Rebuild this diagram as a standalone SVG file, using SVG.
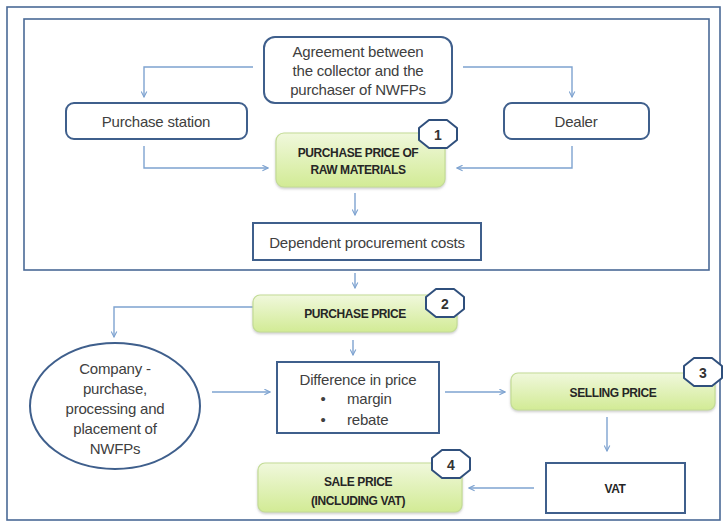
<svg xmlns="http://www.w3.org/2000/svg" width="725" height="524" viewBox="0 0 725 524">
  <defs>
    <style>
      .frame{fill:none;stroke:#4a6a96;stroke-width:1.6}
      .box{fill:#ffffff;stroke:#3f5f8c;stroke-width:2}
      .green{fill:url(#gr);stroke:#c3dc95;stroke-width:1.2;filter:url(#sh)}
      .badge{fill:#ffffff;stroke:#2f4f7c;stroke-width:2;stroke-linejoin:round}
      .conn{fill:none;stroke:#7ea3d0;stroke-width:1.4;marker-end:url(#ah)}
      text{font-family:"Liberation Sans",Arial,sans-serif;fill:#404040;text-anchor:middle;dominant-baseline:central}
      .t{font-size:15px;letter-spacing:-0.2px}
      .b{font-size:12px;font-weight:bold;fill:#262626;letter-spacing:-0.4px}
      .n{font-size:14px;font-weight:bold;fill:#333}
    </style>
    <linearGradient id="gr" x1="0" y1="0" x2="0" y2="1">
      <stop offset="0" stop-color="#f0f8dc"/>
      <stop offset="1" stop-color="#d2eb95"/>
    </linearGradient>
    <filter id="sh" x="-10%" y="-10%" width="120%" height="130%">
      <feDropShadow dx="0" dy="1.5" stdDeviation="1.2" flood-color="#999" flood-opacity="0.5"/>
    </filter>
    <marker id="ah" viewBox="0 0 10 10" refX="9" refY="5" markerWidth="7" markerHeight="7" markerUnits="userSpaceOnUse" orient="auto">
      <path d="M1,1 L9,5 L1,9" fill="none" stroke="#7ea3d0" stroke-width="1.6"/>
    </marker>
    <polygon id="oct" points="-9,-14 9,-14 19,-6 19,6 9,14 -9,14 -19,6 -19,-6"/>
  </defs>

  <rect class="frame" x="7" y="7" width="713" height="513"/>
  <rect class="frame" x="24" y="19" width="685" height="251"/>

  <g id="connectors">
    <path class="conn" d="M253,67 H144 V97"/>
    <path class="conn" d="M463,67 H572 V97"/>
    <path class="conn" d="M144,146 V168 H268"/>
    <path class="conn" d="M572,146 V168 H457"/>
    <path class="conn" d="M355,193 V215"/>
    <path class="conn" d="M355,273 V288"/>
    <path class="conn" d="M253,307 H114 V337"/>
    <path class="conn" d="M353,340 V355"/>
    <path class="conn" d="M212,392 H270"/>
    <path class="conn" d="M445,392 H505"/>
    <path class="conn" d="M607,417 V451"/>
    <path class="conn" d="M534,488 H469"/>
  </g>

  <g id="agreement">
    <rect class="box" x="264" y="37" width="188" height="66" rx="11"/>
    <text class="t" x="358" y="51">Agreement between</text>
    <text class="t" x="358" y="70">the collector and the</text>
    <text class="t" x="358" y="89">purchaser of NWFPs</text>
  </g>

  <g id="purchase-station">
    <rect class="box" x="66" y="103" width="181" height="36" rx="8"/>
    <text class="t" x="156" y="121">Purchase station</text>
  </g>

  <g id="dealer">
    <rect class="box" x="504" y="103" width="145" height="36" rx="8"/>
    <text class="t" x="576" y="121">Dealer</text>
  </g>

  <g id="raw-materials">
    <rect class="green" x="276" y="133" width="169" height="54" rx="8"/>
    <text class="b" x="358" y="153">PURCHASE PRICE OF</text>
    <text class="b" x="358" y="170">RAW MATERIALS</text>
    <use href="#oct" class="badge" x="438" y="134"/>
    <text class="n" x="438" y="135">1</text>
  </g>

  <g id="dependent-costs">
    <rect class="box" x="253" y="223" width="228" height="37"/>
    <text class="t" x="367" y="242">Dependent procurement costs</text>
  </g>

  <g id="purchase-price">
    <rect class="green" x="253" y="295" width="204" height="37" rx="7"/>
    <text class="b" x="355" y="314">PURCHASE PRICE</text>
    <use href="#oct" class="badge" x="445" y="303"/>
    <text class="n" x="445" y="304">2</text>
  </g>

  <g id="company">
    <ellipse cx="115" cy="406" rx="85" ry="63" fill="#ffffff" stroke="#3f5f8c" stroke-width="2"/>
    <text class="t" x="115" y="368">Company -</text>
    <text class="t" x="115" y="388">purchase,</text>
    <text class="t" x="115" y="408">processing and</text>
    <text class="t" x="115" y="428">placement of</text>
    <text class="t" x="115" y="448">NWFPs</text>
  </g>

  <g id="difference">
    <rect class="box" x="277" y="362" width="162" height="71"/>
    <text class="t" x="358" y="379">Difference in price</text>
    <text class="t" x="323" y="398">•</text>
    <text class="t" x="347" y="398" style="text-anchor:start">margin</text>
    <text class="t" x="323" y="419">•</text>
    <text class="t" x="347" y="419" style="text-anchor:start">rebate</text>
  </g>

  <g id="selling-price">
    <rect class="green" x="511" y="373" width="204" height="37" rx="7"/>
    <text class="b" x="613" y="393">SELLING PRICE</text>
    <use href="#oct" class="badge" x="703" y="372"/>
    <text class="n" x="703" y="373">3</text>
  </g>

  <g id="vat">
    <rect class="box" x="546" y="463" width="139" height="50"/>
    <text class="b" x="615" y="489">VAT</text>
  </g>

  <g id="sale-price">
    <rect class="green" x="258" y="463" width="204" height="49" rx="7"/>
    <text class="b" x="358" y="482">SALE PRICE</text>
    <text class="b" x="358" y="501">(INCLUDING VAT)</text>
    <use href="#oct" class="badge" x="451" y="464"/>
    <text class="n" x="451" y="465">4</text>
  </g>
</svg>
